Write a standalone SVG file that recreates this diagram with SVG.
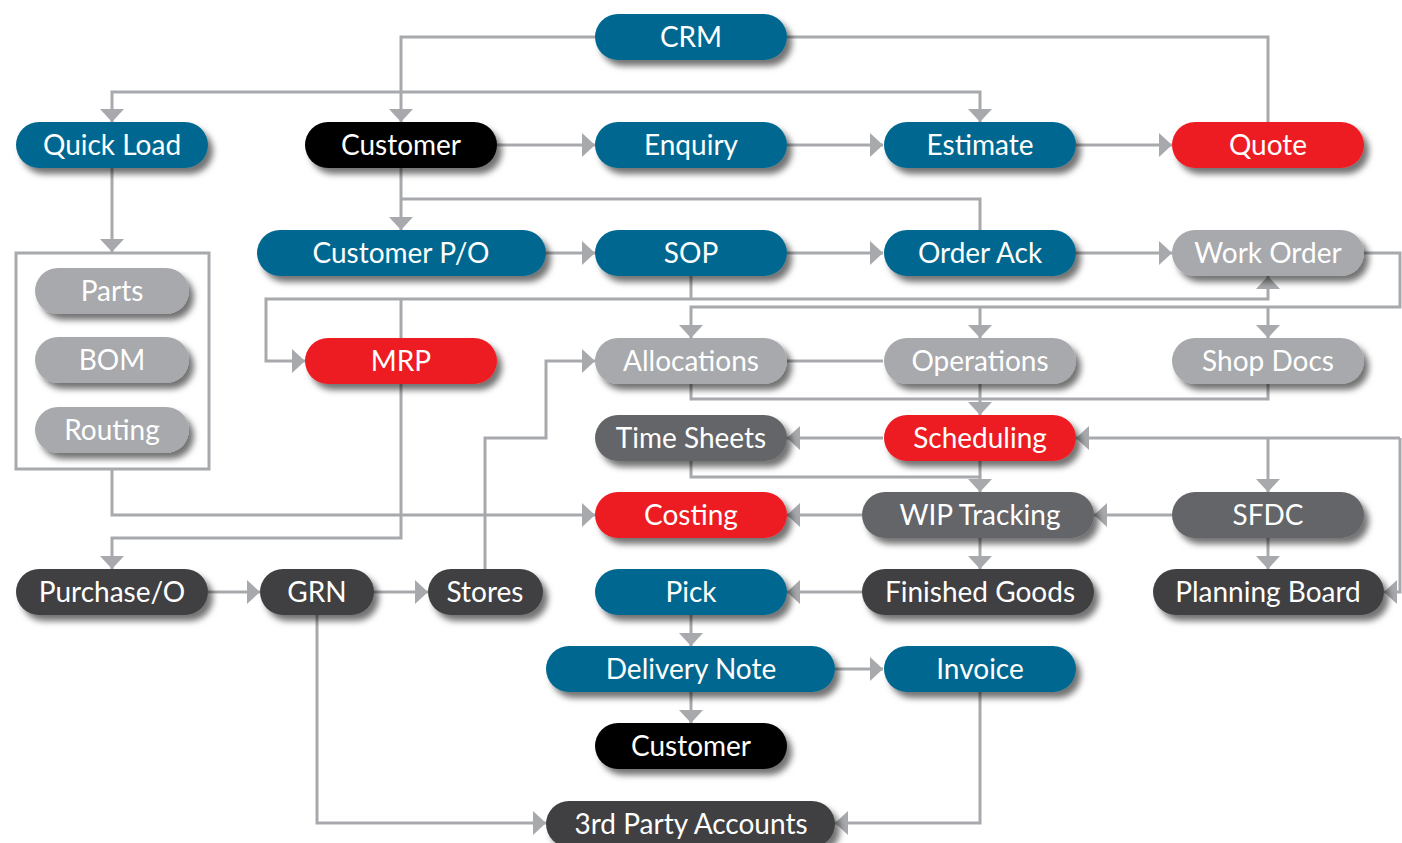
<svg xmlns="http://www.w3.org/2000/svg" width="1402" height="843" viewBox="0 0 1402 843">
<defs>
<filter id="sh" x="-10%" y="-30%" width="125%" height="180%">
<feDropShadow dx="5" dy="6" stdDeviation="3" flood-color="#000" flood-opacity="0.55"/>
</filter>
<marker id="ah" markerUnits="userSpaceOnUse" markerWidth="13" markerHeight="24" refX="13" refY="12" orient="auto" viewBox="0 0 13 24">
<path d="M0,0 L13,12 L0,24 z" fill="#A7A9AC"/>
</marker>
</defs>
<style>
.n rect{filter:url(#sh)}
.n text{font-family:Lato,"Open Sans","Liberation Sans",sans-serif;font-size:28px;fill:#fff;text-anchor:middle}
.blue rect{fill:#006890}
.red rect{fill:#ED1C24}
.blk rect{fill:#000}
.lg rect{fill:#A7A9AC}
.mg rect{fill:#646567}
.dk rect{fill:#414042}
.c path{fill:none;stroke:#A7A9AC;stroke-width:3}
.c path.a{marker-end:url(#ah)}
</style>
<rect width="1402" height="843" fill="#fff"/>
<g class="c" id="connectors">
<path class="a" d="M595,37 H401 V122"/>
<path d="M787,37 H1268 V122"/>
<path class="a" d="M401,92 H112 V122"/>
<path class="a" d="M401,92 H980 V122"/>
<path class="a" d="M497,145 H595"/>
<path class="a" d="M787,145 H883"/>
<path class="a" d="M1076,145 H1172"/>
<path class="a" d="M112,168 V252"/>
<path class="a" d="M401,168 V230"/>
<path d="M401,199 H980 V230"/>
<path class="a" d="M546,253 H595"/>
<path class="a" d="M787,253 H883"/>
<path class="a" d="M1076,253 H1172"/>
<path d="M691,276 V299"/>
<path class="a" d="M401,299 H266 V361 H305"/>
<path class="a" d="M401,299 H1268 V276"/>
<path d="M401,338 V299"/>
<path class="a" d="M1364,253 H1400 V307 H691 V338"/>
<path class="a" d="M980,307 V338"/>
<path class="a" d="M1268,307 V338"/>
<path d="M787,361 H883"/>
<path d="M691,384 V399 H1268 V384"/>
<path class="a" d="M980,384 V415"/>
<path class="a" d="M883,438 H787"/>
<path class="a" d="M1400,438 H1076"/>
<path class="a" d="M1268,438 V492"/>
<path class="a" d="M1400,438 V592 H1384"/>
<path class="a" d="M691,461 V477 H980 V492"/>
<path d="M980,461 V477"/>
<path class="a" d="M862,515 H787"/>
<path class="a" d="M1172,515 H1094"/>
<path class="a" d="M980,538 V569"/>
<path class="a" d="M1268,538 V569"/>
<path class="a" d="M862,592 H787"/>
<path class="a" d="M112,470 V515 H595"/>
<path class="a" d="M401,384 V538 H112 V569"/>
<path class="a" d="M208,592 H260"/>
<path class="a" d="M374,592 H428"/>
<path class="a" d="M485,569 V438 H546 V361 H595"/>
<path class="a" d="M691,615 V646"/>
<path class="a" d="M835,669 H883"/>
<path class="a" d="M691,692 V723"/>
<path class="a" d="M317,615 V823 H546"/>
<path class="a" d="M980,692 V823 H835"/>
</g>
<rect id="masterdata-box" x="16" y="253" width="193" height="216" fill="none" stroke="#A7A9AC" stroke-width="3"/>
<g id="crm" class="n blue"><rect x="595" y="14" width="192" height="46" rx="23"/><text x="691" y="47">CRM</text></g>
<g id="quickload" class="n blue"><rect x="16" y="122" width="192" height="46" rx="23"/><text x="112" y="155">Quick Load</text></g>
<g id="customer1" class="n blk"><rect x="305" y="122" width="192" height="46" rx="23"/><text x="401" y="155">Customer</text></g>
<g id="enquiry" class="n blue"><rect x="595" y="122" width="192" height="46" rx="23"/><text x="691" y="155">Enquiry</text></g>
<g id="estimate" class="n blue"><rect x="884" y="122" width="192" height="46" rx="23"/><text x="980" y="155">Estimate</text></g>
<g id="quote" class="n red"><rect x="1172" y="122" width="192" height="46" rx="23"/><text x="1268" y="155">Quote</text></g>
<g id="customerpo" class="n blue"><rect x="257" y="230" width="289" height="46" rx="23"/><text x="401" y="263">Customer P/O</text></g>
<g id="sop" class="n blue"><rect x="595" y="230" width="192" height="46" rx="23"/><text x="691" y="263">SOP</text></g>
<g id="orderack" class="n blue"><rect x="884" y="230" width="192" height="46" rx="23"/><text x="980" y="263">Order Ack</text></g>
<g id="workorder" class="n lg"><rect x="1172" y="230" width="192" height="46" rx="23"/><text x="1268" y="263">Work Order</text></g>
<g id="parts" class="n lg"><rect x="35" y="268" width="154" height="46" rx="23"/><text x="112" y="301">Parts</text></g>
<g id="bom" class="n lg"><rect x="35" y="337" width="154" height="46" rx="23"/><text x="112" y="370">BOM</text></g>
<g id="routing" class="n lg"><rect x="35" y="407" width="154" height="46" rx="23"/><text x="112" y="440">Routing</text></g>
<g id="mrp" class="n red"><rect x="305" y="338" width="192" height="46" rx="23"/><text x="401" y="371">MRP</text></g>
<g id="allocations" class="n lg"><rect x="595" y="338" width="192" height="46" rx="23"/><text x="691" y="371">Allocations</text></g>
<g id="operations" class="n lg"><rect x="884" y="338" width="192" height="46" rx="23"/><text x="980" y="371">Operations</text></g>
<g id="shopdocs" class="n lg"><rect x="1172" y="338" width="192" height="46" rx="23"/><text x="1268" y="371">Shop Docs</text></g>
<g id="timesheets" class="n mg"><rect x="595" y="415" width="192" height="46" rx="23"/><text x="691" y="448">Time Sheets</text></g>
<g id="scheduling" class="n red"><rect x="884" y="415" width="192" height="46" rx="23"/><text x="980" y="448">Scheduling</text></g>
<g id="costing" class="n red"><rect x="595" y="492" width="192" height="46" rx="23"/><text x="691" y="525">Costing</text></g>
<g id="wiptracking" class="n mg"><rect x="862" y="492" width="232" height="46" rx="23"/><text x="980" y="525">WIP Tracking</text></g>
<g id="sfdc" class="n mg"><rect x="1172" y="492" width="192" height="46" rx="23"/><text x="1268" y="525">SFDC</text></g>
<g id="purchaseo" class="n dk"><rect x="16" y="569" width="192" height="46" rx="23"/><text x="112" y="602">Purchase/O</text></g>
<g id="grn" class="n dk"><rect x="260" y="569" width="114" height="46" rx="23"/><text x="317" y="602">GRN</text></g>
<g id="stores" class="n dk"><rect x="428" y="569" width="115" height="46" rx="23"/><text x="485" y="602">Stores</text></g>
<g id="pick" class="n blue"><rect x="595" y="569" width="192" height="46" rx="23"/><text x="691" y="602">Pick</text></g>
<g id="finishedgoods" class="n dk"><rect x="862" y="569" width="232" height="46" rx="23"/><text x="980" y="602">Finished Goods</text></g>
<g id="planningboard" class="n dk"><rect x="1153" y="569" width="231" height="46" rx="23"/><text x="1268" y="602">Planning Board</text></g>
<g id="deliverynote" class="n blue"><rect x="546" y="646" width="289" height="46" rx="23"/><text x="691" y="679">Delivery Note</text></g>
<g id="invoice" class="n blue"><rect x="884" y="646" width="192" height="46" rx="23"/><text x="980" y="679">Invoice</text></g>
<g id="customer2" class="n blk"><rect x="595" y="723" width="192" height="46" rx="23"/><text x="691" y="756">Customer</text></g>
<g id="thirdparty" class="n dk"><rect x="546" y="801" width="289" height="46" rx="23"/><text x="691" y="834">3rd Party Accounts</text></g>
</svg>
